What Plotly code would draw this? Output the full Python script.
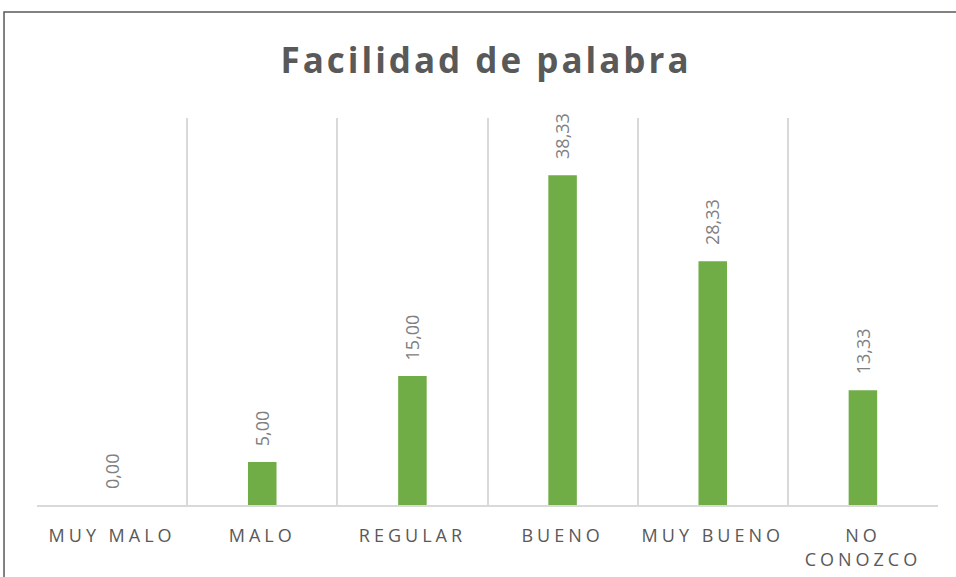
import plotly.graph_objects as go

categories = ["MUY MALO", "MALO", "REGULAR", "BUENO", "MUY BUENO", "NO<br>CONOZCO"]
values = [0.00, 5.00, 15.00, 38.33, 28.33, 13.33]
labels = [f"{v:.2f}".replace(".", ",") for v in values]

BAR = "#70AD47"
GRID = "#D9D9D9"

fig = go.Figure(go.Bar(
    x=categories, y=values, marker=dict(color=BAR, line=dict(width=0)),
    width=0.19, hoverinfo="skip",
))

for c, v, t in zip(categories, values, labels):
    fig.add_annotation(x=c, y=v, text=t, textangle=-90, showarrow=False,
                       xanchor="center", yanchor="bottom", yshift=14,
                       font=dict(family="Open Sans", size=18, color="#808080"))

fig.add_shape(type="rect", xref="paper", yref="paper",
              x0=-0.0366, x1=1.1, y0=-0.4, y1=1.274,
              line=dict(color="#595959", width=1.5), layer="below")

fig.update_layout(
    width=956, height=577,
    margin=dict(l=37, r=18, t=118, b=72, autoexpand=False),
    paper_bgcolor="white", plot_bgcolor="white",
    showlegend=False,
    title=dict(text="<b>Facilidad de palabra</b>", x=0.5, xanchor="center",
               y=0.895, yanchor="middle",
               font=dict(family="Open Sans", size=35, color="#595959")),
    xaxis=dict(type="category", tickson="boundaries", showgrid=True, gridcolor=GRID,
               gridwidth=1.5, showline=True, linecolor=GRID, linewidth=1.5,
               ticks="", ticklabelstandoff=14, automargin=False,
               tickfont=dict(family="Open Sans", size=18, color="#595959"),
               range=[-0.5, 5.5]),
    yaxis=dict(range=[0, 45], showgrid=False, showticklabels=False, zeroline=False,
               showline=False, ticks="", automargin=False),
)

post = """
document.body.style.margin='0';
var gd = document.getElementById('{plot_id}');
function spacing(){
  gd.querySelectorAll('.xtick text').forEach(function(t){ t.style.letterSpacing='4px'; });
  gd.querySelectorAll('.gtitle').forEach(function(t){ t.style.letterSpacing='3px'; t.setAttribute('transform','translate(8,0)'); });
}
spacing();
gd.on('plotly_afterplot', spacing);
"""

fig.write_html("out.html", post_script=post, config={"displayModeBar": False})
